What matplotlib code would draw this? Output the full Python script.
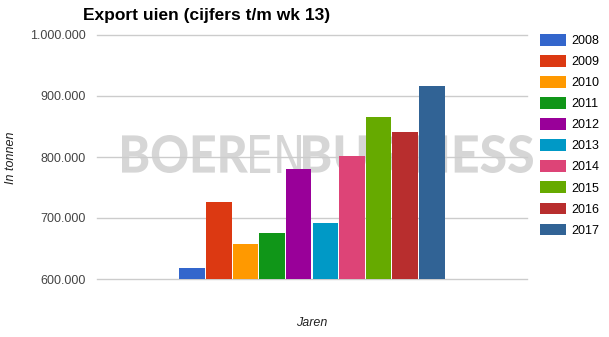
import numpy as np
import matplotlib.pyplot as plt
from matplotlib.textpath import TextPath
from matplotlib.patches import PathPatch, Patch
from matplotlib.font_manager import FontProperties
from matplotlib.transforms import Affine2D
from matplotlib.ticker import FuncFormatter

# Data: export uien t/m week 13 (tonnen)
jaren = ['2008', '2009', '2010', '2011', '2012', '2013', '2014', '2015', '2016', '2017']
export = [618500, 726500, 658000, 676000, 781000, 691000, 802000, 866000, 841500, 917000]
kleuren = ['#3366cc', '#dc3912', '#ff9900', '#109618', '#990099',
           '#0099c6', '#dd4477', '#66aa00', '#b82e2e', '#316395']
yticks = [600000, 700000, 800000, 900000, 1000000]

W, H = 609, 337
fig = plt.figure(figsize=(W / 100, H / 100), dpi=100)
ax = fig.add_axes([97 / W, 1 - 279 / H, 430 / W, 244 / H])

# Bars, one group centred in the plot
n = len(jaren)
pos = np.arange(n) - (n - 1) / 2
ax.bar(pos, [v - yticks[0] for v in export], bottom=yticks[0], width=0.96,
       color=kleuren, zorder=3)
ax.set_xlim(-8.08, 8.08)
ax.set_ylim(yticks[0], yticks[-1])
ax.set_yticks(yticks)
ax.yaxis.set_major_formatter(FuncFormatter(lambda v, p: f'{int(v):,}'.replace(',', '.')))
ax.set_xticks([])
ax.tick_params(axis='y', length=0, pad=8, labelsize=9, labelcolor='#444444')
for lab in ax.get_yticklabels():
    lab.set_fontfamily('Liberation Sans')
for s in ax.spines.values():
    s.set_visible(False)
ax.set_axisbelow(True)
ax.yaxis.grid(True, color='#cccccc', linewidth=1)
for gl in ax.get_ygridlines():
    gl.set_clip_on(False)

# Watermark BOERENBUSINESS, drawn as three paths fitted to the box
stukken = [('BOER', FontProperties(family='Lato', weight='black'), 122, 248),
           ('EN', FontProperties(family='DejaVu Sans', weight='normal'), 250, 301),
           ('BUSINESS', FontProperties(family='Lato', weight='black'), 303, 533)]
for txt, fp, xa, xb in stukken:
    tp = TextPath((0, 0), txt, size=50, prop=fp)
    ext = tp.get_extents()
    sx = (xb - xa) / ext.width
    sy = (173 - 135) / ext.height
    tr = Affine2D().translate(-ext.x0, -ext.y0).scale(sx, sy).translate(xa, H - 173)
    ax.add_patch(PathPatch(tp, transform=tr, facecolor='#d6d6d6', edgecolor='none',
                           zorder=0.3, clip_on=False))

# Title and axis labels
fig.text(83 / W, 1 - 8 / H, 'Export uien (cijfers t/m wk 13)', fontsize=12.5,
         fontweight='bold', family='Liberation Sans', va='top', ha='left', color='black')
fig.text(11 / W, 1 - 158 / H, 'In tonnen', rotation=90, fontsize=9, style='italic',
         family='Liberation Sans', va='center', ha='center', color='#222222')
fig.text(312 / W, 1 - 323 / H, 'Jaren', fontsize=9, style='italic',
         family='Liberation Sans', va='center', ha='center', color='#222222')

# Legend
handles = [Patch(facecolor=c, edgecolor='none') for c in kleuren]
fig.legend(handles, jaren, loc='upper left', bbox_to_anchor=(540 / W, 1 - 34 / H),
           frameon=False, borderpad=0, borderaxespad=0, handlelength=2.1,
           handleheight=1.05, handletextpad=0.4, labelspacing=0.64,
           prop=FontProperties(family='Liberation Sans', size=9))

fig.savefig('out.png', dpi=100)
